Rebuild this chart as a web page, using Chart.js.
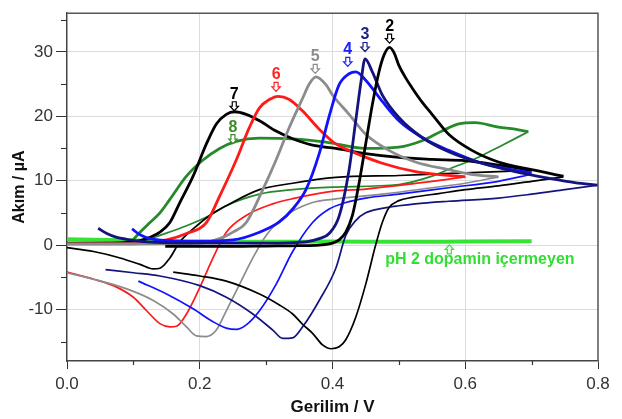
<!DOCTYPE html>
<html><head><meta charset="utf-8">
<script src="https://cdn.jsdelivr.net/npm/chart.js@4"></script>
<style>html,body{margin:0;padding:0;background:#fff}canvas{display:block}</style>
</head><body>
<canvas id="c" width="622" height="419"></canvas>
<script>
// ---- axis ticks ----
const xTicks = [0, 0.1, 0.2, 0.3, 0.4, 0.5, 0.6, 0.7, 0.8];
const yTicks = [-15, -10, -5, 0, 5, 10, 15, 20, 25, 30, 35];

// ---- data: potential (V) and current (µA), forward (anodic) and reverse (cathodic) scans ----
const pH2_fwd_V = [0.148,0.2,0.25,0.3,0.35,0.38,0.40,0.41,0.42,0.43,0.44,0.45,0.46,0.47,0.478,0.486,0.493,0.50,0.51,0.52,0.535,0.55,0.575,0.61,0.65,0.70,0.748];
const pH2_fwd_I = [-0.2,-0.2,-0.2,-0.15,-0.1,0.0,0.3,0.8,2.0,4.6,9.6,15.7,21.8,26.9,29.6,30.7,29.8,27.9,26.0,24.4,22.2,20.3,17.2,14.7,12.9,11.7,10.7];
const pH2_rev_V = [0.16,0.2,0.24,0.29,0.32,0.34,0.355,0.37,0.385,0.398,0.41,0.42,0.435,0.45,0.465,0.475,0.485,0.50,0.52,0.56,0.6,0.65,0.7,0.748];
const pH2_rev_I = [-4.2,-4.8,-5.6,-7.6,-9.3,-10.7,-12.3,-13.7,-15.5,-16.1,-15.8,-14.7,-11.2,-6.1,0.0,3.5,5.8,6.9,7.4,8.0,8.6,9.2,9.9,10.6];

const pH3_fwd_V = [0.047,0.06,0.075,0.09,0.12,0.2,0.3,0.36,0.38,0.395,0.41,0.425,0.435,0.443,0.449,0.46,0.475,0.50,0.535,0.575,0.625,0.675,0.725,0.765,0.8];
const pH3_fwd_I = [2.6,1.8,1.2,0.9,0.5,0.3,0.3,0.5,1.0,1.8,4.5,11.7,19.3,25.4,28.9,26.9,23.3,19.8,16.7,14.5,12.7,11.4,10.4,9.7,9.3];
const pH3_rev_V = [0.058,0.1,0.14,0.2,0.24,0.28,0.31,0.325,0.34,0.355,0.38,0.405,0.42,0.435,0.45,0.475,0.5,0.525,0.575,0.65,0.7,0.75,0.8];
const pH3_rev_I = [-3.8,-4.3,-4.8,-6.3,-8.1,-10.7,-13.2,-14.5,-14.4,-12.7,-8.6,-3.6,1.5,3.8,5.0,5.7,6.1,6.4,6.8,7.3,7.9,8.6,9.3];

const pH4_fwd_V = [0.098,0.11,0.125,0.15,0.2,0.25,0.29,0.32,0.34,0.36,0.38,0.395,0.41,0.425,0.435,0.45,0.475,0.50,0.535,0.575,0.625,0.67,0.70];
const pH4_fwd_I = [2.5,1.6,1.0,0.7,0.6,0.8,2.0,3.6,5.6,8.6,14.2,20.0,24.9,26.6,26.9,25.6,22.3,19.3,16.7,14.7,12.7,11.7,11.2];
const pH4_rev_V = [0.1075,0.15,0.19,0.22,0.24,0.255,0.27,0.29,0.315,0.34,0.37,0.395,0.42,0.45,0.5,0.575,0.65,0.70];
const pH4_rev_I = [-5.6,-7.6,-9.9,-11.9,-12.9,-13.1,-12.4,-10.2,-6.1,-1.0,3.5,5.6,6.6,7.3,7.9,8.9,9.9,11.0];

const pH5_fwd_V = [0.0,0.1,0.2,0.235,0.25,0.27,0.295,0.315,0.335,0.355,0.365,0.375,0.39,0.40,0.425,0.45,0.485,0.525,0.575,0.615,0.65];
const pH5_fwd_I = [0.2,0.2,0.3,1.2,2.0,3.5,8.6,13.2,18.3,22.8,25.0,26.1,24.9,23.3,20.3,17.2,14.7,12.9,11.7,10.9,10.6];
const pH5_rev_V = [0.0,0.04,0.09,0.13,0.16,0.18,0.195,0.21,0.225,0.24,0.26,0.28,0.30,0.33,0.37,0.40,0.475,0.55,0.6,0.65];
const pH5_rev_I = [-4.3,-5.3,-6.8,-8.6,-10.7,-12.7,-14.1,-14.2,-13.2,-10.2,-6.1,-2.0,1.5,4.6,6.6,7.1,7.9,8.9,9.6,10.6];

const pH6_fwd_V = [0.0,0.1,0.15,0.18,0.21,0.23,0.255,0.275,0.29,0.305,0.318,0.335,0.355,0.38,0.405,0.425,0.475,0.525,0.565,0.60];
const pH6_fwd_I = [0.2,0.2,0.8,1.8,3.5,7.6,13.2,18.3,21.3,22.6,23.1,22.6,20.8,18.0,15.7,14.7,12.7,11.4,10.9,10.6];
const pH6_rev_V = [0.0,0.04,0.07,0.10,0.12,0.14,0.155,0.165,0.18,0.20,0.22,0.24,0.27,0.31,0.34,0.405,0.45,0.55,0.60];
const pH6_rev_I = [-4.2,-5.3,-6.3,-8.1,-10.2,-12.2,-12.7,-12.6,-10.7,-6.6,-2.0,2.0,4.6,6.4,7.2,8.4,8.7,9.9,10.6];

const pH7_fwd_V = [0.0,0.05,0.1,0.12,0.14,0.155,0.17,0.19,0.21,0.225,0.24,0.2525,0.27,0.29,0.315,0.34,0.37,0.405,0.45,0.5,0.55,0.6,0.65,0.7];
const pH7_fwd_I = [0.3,0.3,0.5,1.0,2.0,3.5,6.6,10.7,15.7,18.8,20.3,20.7,20.3,19.3,17.7,16.5,15.5,15.0,14.2,13.6,13.3,13.1,12.4,11.6];
const pH7_rev_V = [0.0,0.04,0.08,0.11,0.13,0.14,0.155,0.17,0.19,0.215,0.24,0.29,0.34,0.405,0.5,0.55,0.6,0.65,0.7];
const pH7_rev_I = [-0.4,-1.0,-2.0,-3.0,-3.7,-3.6,-2.0,0.5,2.5,4.6,6.1,8.6,9.6,10.5,10.8,11.0,11.2,11.4,11.6];

const pH8_fwd_V = [0.095,0.11,0.125,0.14,0.155,0.18,0.205,0.23,0.255,0.29,0.34,0.39,0.45,0.50,0.535,0.565,0.59,0.615,0.65,0.675,0.695];
const pH8_fwd_I = [0.3,2.0,3.5,5.0,7.1,10.7,13.2,15.0,16.1,16.6,16.5,16.0,15.0,15.2,16.2,17.7,18.8,19.0,18.3,18.0,17.6];
const pH8_rev_V = [0.095,0.12,0.14,0.18,0.215,0.24,0.29,0.34,0.40,0.50,0.55,0.585,0.615,0.65,0.695];
const pH8_rev_I = [0.3,0.8,1.5,3.0,4.6,6.1,7.9,8.6,9.0,9.4,10.7,12.2,13.4,15.2,17.6];

const blank_V = [0.0,0.1,0.2,0.3,0.4,0.5,0.6,0.7];
const blank_I = [0.9,0.7,0.5,0.5,0.55,0.5,0.55,0.6];

// peak annotations (label text, potential, current)
const peakLabels = ['2','3','4','5','6','7','8'];
const peakLabelV = [0.486,0.449,0.423,0.374,0.315,0.252,0.250];
const peakLabelI = [30.5,29.2,26.9,25.8,23.0,20.0,14.9];
const blankLabel = 'pH 2 dopamin içermeyen';
const blankArrowV = 0.576, blankArrowI = -0.5;
const blankTextV = 0.622, blankTextI = -2.3;

// ---- styles ----
const C = {k:'#000000', navy:'#14147e', blue:'#1212ff', grey:'#8c8c8c', red:'#ff1a1a', green:'#26892a', lime:'#36e436'};
const labelColors = ['#000000','#1c1c86','#2020ff','#8a8a8a','#ff2424','#000000','#3d8c2c'];
const THICK = 2.8, THIN = 1.7;

function pts(v, i){ return v.map((x,k)=>({x:x, y:i[k]})); }
function ds(v, i, color, w){ return {data: pts(v,i), borderColor: color, borderWidth: w, pointRadius: 0, fill:false, cubicInterpolationMode:'monotone'}; }

const datasets = [
  ds(pH2_fwd_V, pH2_fwd_I, C.k, THICK),
  ds(pH3_fwd_V, pH3_fwd_I, C.navy, THICK),
  ds(pH4_fwd_V, pH4_fwd_I, C.blue, THICK),
  ds(pH5_fwd_V, pH5_fwd_I, C.grey, THICK),
  ds(pH6_fwd_V, pH6_fwd_I, C.red, THICK),
  ds(pH7_fwd_V, pH7_fwd_I, C.k, THICK),
  ds(pH8_fwd_V, pH8_fwd_I, C.green, THICK),
  ds(pH2_rev_V, pH2_rev_I, C.k, THIN),
  ds(pH3_rev_V, pH3_rev_I, C.navy, THIN),
  ds(pH4_rev_V, pH4_rev_I, C.blue, THIN),
  ds(pH5_rev_V, pH5_rev_I, C.grey, THIN),
  ds(pH6_rev_V, pH6_rev_I, C.red, THIN),
  ds(pH7_rev_V, pH7_rev_I, C.k, THIN),
  ds(pH8_rev_V, pH8_rev_I, C.green, THIN),
  ds(blank_V, blank_I, C.lime, 4)
];

const isMajorX = v => Math.round(v*10) % 2 === 0;
const isMajorY = v => Math.round(v) % 10 === 0;

function arrow(ctx, cx, cy, dir, color){
  const h = 4.5, sw = 2, hw = 4.2;
  ctx.save();
  ctx.beginPath();
  ctx.moveTo(cx-sw, cy-dir*h);
  ctx.lineTo(cx+sw, cy-dir*h);
  ctx.lineTo(cx+sw, cy);
  ctx.lineTo(cx+hw, cy);
  ctx.lineTo(cx, cy+dir*h);
  ctx.lineTo(cx-hw, cy);
  ctx.lineTo(cx-sw, cy);
  ctx.closePath();
  ctx.fillStyle = '#fff'; ctx.fill();
  ctx.strokeStyle = color; ctx.lineWidth = 1.2; ctx.stroke();
  ctx.restore();
}

const decor = {
  id:'decor',
  afterDatasetsDraw(chart){
    const ctx = chart.ctx, xs = chart.scales.x, ys = chart.scales.y;
    ctx.save();
    ctx.font = 'bold 16px "Liberation Sans", Arial, sans-serif';
    ctx.textAlign = 'center'; ctx.textBaseline = 'middle';
    peakLabels.forEach((t,k)=>{
      const px = xs.getPixelForValue(peakLabelV[k]), py = ys.getPixelForValue(peakLabelI[k]);
      ctx.fillStyle = labelColors[k];
      ctx.fillText(t, px, py-22);
      arrow(ctx, px, py-10, 1, labelColors[k]);
    });
    const ax = xs.getPixelForValue(blankArrowV), ay = ys.getPixelForValue(blankArrowI);
    arrow(ctx, ax, ay+1, -1, C.lime);
    ctx.fillStyle = '#33dd33';
    ctx.fillText(blankLabel, xs.getPixelForValue(blankTextV), ys.getPixelForValue(blankTextI));
    ctx.restore();
  },
  afterDraw(chart){
    const ctx = chart.ctx, a = chart.chartArea, xs = chart.scales.x, ys = chart.scales.y;
    ctx.save();
    ctx.strokeStyle = '#555'; ctx.lineWidth = 1.5;
    ctx.beginPath();
    ctx.moveTo(a.left, a.top); ctx.lineTo(a.right, a.top); ctx.lineTo(a.right, a.bottom);
    ctx.stroke();
    ctx.strokeStyle = '#333'; ctx.lineWidth = 1.2;
    ctx.beginPath();
    yTicks.filter(v=>!isMajorY(v)).forEach(v=>{ const y = Math.round(ys.getPixelForValue(v))+0.5; ctx.moveTo(a.left-6, y); ctx.lineTo(a.left, y); });
    xTicks.filter(v=>!isMajorX(v)).forEach(v=>{ const x = Math.round(xs.getPixelForValue(v))+0.5; ctx.moveTo(x, a.bottom); ctx.lineTo(x, a.bottom+4); });
    ctx.stroke();
    ctx.restore();
  }
};

new Chart(document.getElementById('c'), {
  type:'line',
  data:{datasets},
  plugins:[decor],
  options:{
    responsive:false, animation:false, parsing:false,
    layout:{padding:{left:0, right:24, top:6, bottom:0}},
    plugins:{legend:{display:false}, tooltip:{enabled:false}},
    scales:{
      x:{
        type:'linear', min:0, max:0.8,
        afterBuildTicks: s => { s.ticks = xTicks.map(v=>({value:v})); },
        afterFit: s => { s.height = 58; },
        grid:{ color: c => (c.tick && isMajorX(c.tick.value) && c.tick.value>0 && c.tick.value<0.8) ? '#dcdcdc' : 'rgba(0,0,0,0)',
               tickColor: c => (c.tick && isMajorX(c.tick.value)) ? '#333' : 'rgba(0,0,0,0)', tickLength: 8, lineWidth:1 },
        border:{color:'#444', width:1.5},
        ticks:{ autoSkip:false, maxRotation:0, padding:5, color:'#333',
                font:{family:'"Liberation Sans Narrow", "Liberation Sans", Arial', size:17},
                callback: v => isMajorX(v) ? v.toFixed(1) : '' },
        title:{display:true, text:'Gerilim / V', color:'#111', font:{family:'"Liberation Sans", Arial', size:17, weight:'bold'}, padding:{top:0, bottom:1}}
      },
      y:{
        type:'linear', min:-18, max:36,
        afterBuildTicks: s => { s.ticks = yTicks.map(v=>({value:v})); },
        afterFit: s => { s.width = 67; },
        grid:{ color: c => (c.tick && isMajorY(c.tick.value)) ? '#dcdcdc' : 'rgba(0,0,0,0)',
               tickColor: c => (c.tick && isMajorY(c.tick.value)) ? '#333' : 'rgba(0,0,0,0)', tickLength: 11, lineWidth:1 },
        border:{color:'#444', width:1.5},
        ticks:{ autoSkip:false, padding:3, color:'#333',
                font:{family:'"Liberation Sans Narrow", "Liberation Sans", Arial', size:17},
                callback: v => isMajorY(v) ? String(v) : '' },
        title:{display:true, text:'Akım / µA', color:'#111', font:{family:'"Liberation Sans", Arial', size:16, weight:'bold'}, padding:{top:10, bottom:0}}
      }
    }
  }
});
</script>
</body></html>
